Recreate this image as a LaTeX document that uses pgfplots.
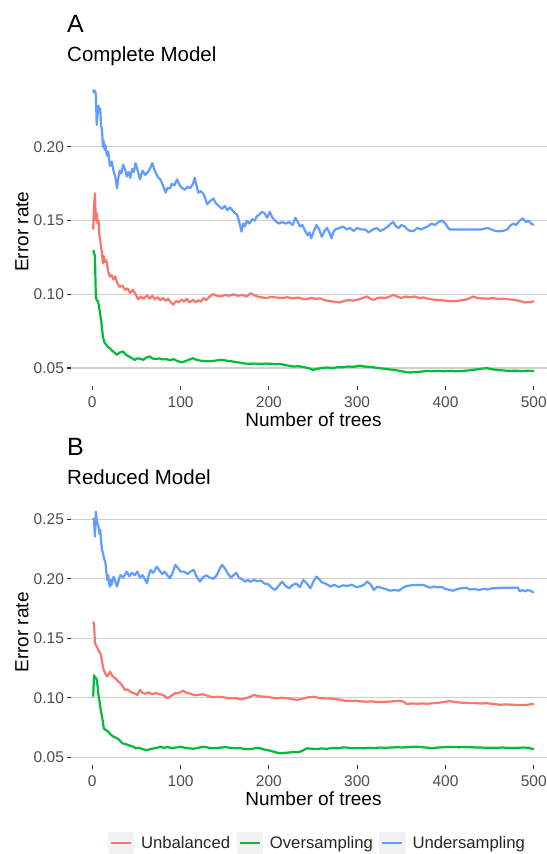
\documentclass[border=0pt]{standalone}
\usepackage{pgfplots}
\pgfplotsset{compat=1.18}
\usepackage{fontspec}
\setmainfont{Liberation Sans}

\definecolor{ggred}{HTML}{F8766D}
\definecolor{gggreen}{HTML}{00BA38}
\definecolor{ggblue}{HTML}{619CFF}
\definecolor{gridgray}{HTML}{CFCFCF}
\definecolor{tickgray}{HTML}{333333}
\definecolor{labelgray}{HTML}{4D4D4D}
\definecolor{legbg}{HTML}{F2F2F2}

\pgfplotsset{
  ggpanel/.style={
    scale only axis,
    width=475.9bp,
    xmin=-24, xmax=515,
    xtick={0,100,...,500},
    axis line style={draw=none},
    tick align=outside,
    xtick pos=left, ytick pos=left,
    major tick length=3.7bp,
    tick style={color=tickgray, line width=1.1bp},
    ymajorgrids,
    y grid style={gridgray, line width=1.1bp},
    tick label style={font=\fontsize{15.5bp}{18bp}\selectfont, text=labelgray},
    xticklabel style={yshift=-3bp},
    /pgf/number format/assume math mode=true,
    yticklabel style={/pgf/number format/.cd, fixed, fixed zerofill, precision=2},
    scaled y ticks=false,
    label style={font=\fontsize{19bp}{22bp}\selectfont},
    ylabel={Error rate},
    xlabel={Number of trees},
    ylabel style={anchor=center, at={(rel axis cs:-0.1032,0.5)}},
    every axis plot/.append style={line width=2.2bp, line join=round},
  },
}

\begin{document}
\begin{tikzpicture}
\useasboundingbox (0,0) rectangle (547bp,854bp);

% ---- A: complete model ----
\begin{axis}[ggpanel,
  at={(71.1bp,467.6bp)}, anchor=south west,
  height=309.6bp,
  ymin=0.0375, ymax=0.2476,
  ytick={0.05,0.10,0.15,0.20},
  xlabel style={anchor=center, at={(rel axis cs:0.5093,-0.1085)}},
]
\addplot[ggred, forget plot] table {
1 0.144
2 0.160
3 0.1686
4 0.150
5 0.155
6 0.148
7 0.150
8 0.140
9 0.137
10 0.132
11 0.128
12 0.121
13 0.126
14 0.122
16 0.123
18 0.1154
20 0.112
22 0.113
24 0.110
26 0.112
28 0.108
31 0.105
34 0.106
37 0.103
40 0.104
43 0.101
46 0.103
49 0.100
52 0.0965
55 0.0985
58 0.097
62 0.0993
65 0.097
68 0.099
71 0.0965
74 0.098
77 0.096
80 0.0975
83 0.0955
86 0.097
89 0.0945
92 0.0930
95 0.0955
98 0.0945
101 0.0965
104 0.095
107 0.097
110 0.0945
114 0.0962
117 0.0945
120 0.096
123 0.095
126 0.0975
129 0.096
133 0.0985
137 0.1002
141 0.0990
145 0.0985
150 0.0995
155 0.0990
160 0.1000
165 0.0990
170 0.0995
175 0.0985
179 0.1007
183 0.0995
187 0.0985
191 0.0980
197 0.0975
203 0.0982
209 0.0978
215 0.0975
221 0.0980
227 0.0972
233 0.0978
239 0.0968
243 0.0967
248 0.0975
253 0.0970
258 0.0972
263 0.0960
268 0.0955
274 0.0950
280 0.0944
285 0.0955
290 0.0960
296 0.0958
302 0.0965
306 0.0975
311 0.0985
315 0.0970
319 0.0962
323 0.0975
327 0.0978
332 0.0975
337 0.0985
341 0.0996
345 0.0985
350 0.0975
355 0.0985
360 0.0980
365 0.0985
370 0.0975
375 0.0978
380 0.0970
385 0.0965
390 0.0962
396 0.0960
402 0.0955
408 0.0952
412 0.0953
418 0.0960
424 0.0965
428 0.0975
431 0.0985
436 0.0975
442 0.0972
448 0.0970
454 0.0975
460 0.0968
466 0.0970
472 0.0965
478 0.0962
484 0.0955
490 0.0944
494 0.0948
497 0.0945
500 0.0955
};
\addplot[gggreen, forget plot] table {
1 0.130
2 0.1285
3 0.1256
4 0.0985
5 0.096
6 0.0955
7 0.094
8 0.090
9 0.086
10 0.0826
11 0.077
12 0.0713
13 0.069
14 0.067
16 0.0657
18 0.064
20 0.0635
22 0.062
25 0.0605
28 0.059
31 0.0605
35 0.0612
38 0.059
41 0.058
45 0.0566
48 0.0555
51 0.0565
55 0.0562
58 0.0555
61 0.0570
65 0.0578
68 0.0565
72 0.0560
76 0.0565
80 0.0558
84 0.0560
88 0.0552
92 0.0560
96 0.0548
101 0.0538
105 0.0545
109 0.0555
114 0.0566
118 0.0555
122 0.0550
127 0.0548
132 0.0545
137 0.0548
142 0.0552
148 0.0555
153 0.0548
158 0.0545
163 0.0540
168 0.0535
173 0.0530
179 0.0528
185 0.0530
191 0.0528
197 0.0530
203 0.0528
208 0.0525
213 0.0528
218 0.0520
223 0.0515
228 0.0510
234 0.0512
240 0.0505
245 0.0499
250 0.0487
255 0.0495
260 0.0500
266 0.0503
272 0.0500
278 0.0505
284 0.0505
290 0.0510
296 0.0508
303 0.0516
308 0.0510
313 0.0508
318 0.0505
323 0.0500
330 0.0495
337 0.0490
344 0.0485
350 0.0478
356 0.0472
360 0.0469
366 0.0472
372 0.0475
378 0.0480
384 0.0478
390 0.0480
398 0.0478
405 0.0480
412 0.0478
420 0.0480
428 0.0485
435 0.0490
441 0.0495
447 0.0499
452 0.0492
457 0.0488
462 0.0485
468 0.0482
474 0.0480
480 0.0482
486 0.0478
492 0.0482
496 0.0480
500 0.0480
};
\addplot[ggblue, forget plot] table {
1 0.239
2 0.237
3 0.238
4 0.236
5 0.215
6 0.222
7 0.228
8 0.224
9 0.226
10 0.214
11 0.212
12 0.200
13 0.204
14 0.198
15 0.201
16 0.196
17 0.194
18 0.197
20 0.187
22 0.190
24 0.184
26 0.180
27 0.176
28 0.172
29 0.177
31 0.184
33 0.182
35 0.188
37 0.185
39 0.180
41 0.183
43 0.179
45 0.185
47 0.183
49 0.189
51 0.185
54 0.178
57 0.184
60 0.181
63 0.183
66 0.186
68 0.189
70 0.185
73 0.181
75 0.179
77 0.178
80 0.174
83 0.169
85 0.172
88 0.172
90 0.175
93 0.174
96 0.178
99 0.174
102 0.172
105 0.171
108 0.173
111 0.172
114 0.175
116 0.179
118 0.174
120 0.169
123 0.170
126 0.168
128 0.165
130 0.161
133 0.163
137 0.165
140 0.162
143 0.160
147 0.158
150 0.160
153 0.157
156 0.159
160 0.156
164 0.154
166 0.150
169 0.1425
171 0.148
173 0.146
175 0.150
178 0.148
181 0.151
184 0.150
186 0.1527
189 0.154
192 0.156
195 0.155
198 0.152
201 0.156
204 0.152
207 0.150
211 0.148
215 0.149
219 0.148
223 0.149
227 0.147
230 0.152
233 0.149
235 0.146
238 0.147
241 0.143
244 0.140
246 0.142
248 0.138
251 0.143
254 0.147
257 0.144
260 0.139
263 0.143
266 0.145
269 0.141
271 0.138
273 0.142
275 0.144
280 0.145
284 0.146
288 0.144
292 0.145
296 0.143
300 0.145
305 0.144
309 0.144
313 0.142
318 0.144
322 0.145
326 0.143
330 0.144
335 0.146
338 0.148
341 0.149
344 0.146
347 0.145
350 0.147
354 0.146
357 0.144
360 0.143
364 0.143
368 0.145
372 0.144
376 0.145
380 0.146
384 0.148
388 0.147
392 0.149
396 0.150
400 0.148
403 0.145
405 0.144
410 0.144
420 0.144
430 0.144
440 0.144
448 0.145
452 0.144
456 0.143
460 0.1427
465 0.143
470 0.144
474 0.147
477 0.148
480 0.147
484 0.150
488 0.1515
491 0.149
494 0.150
497 0.148
500 0.147
};
\end{axis}

% ---- B: reduced model ----
\begin{axis}[ggpanel,
  at={(71.1bp,88.6bp)}, anchor=south west,
  height=265.9bp,
  ymin=0.0432, ymax=0.2666,
  ytick={0.05,0.10,0.15,0.20,0.25},
  xlabel style={anchor=center, at={(rel axis cs:0.5093,-0.1264)}},
  legend columns=3,
  legend style={at={(0.5175,-0.2918)}, anchor=center, draw=none, fill=none,
    font=\fontsize{16.7bp}{20bp}\selectfont, text=black!85,
    /tikz/every odd column/.append style={column sep=5bp},
    /tikz/every even column/.append style={column sep=4.5bp}},
  legend image code/.code={
    \fill[legbg] (0bp,-10bp) rectangle (24bp,10bp);
    \draw[#1] (2bp,0bp) -- (22bp,0bp);},
]
\addplot[ggred] table {
1 0.164
2 0.162
3 0.1458
5 0.143
7 0.140
9 0.1374
10 0.136
11 0.130
13 0.1234
15 0.120
17 0.1178
20 0.122
23 0.118
26 0.1164
29 0.114
32 0.1122
35 0.109
37 0.1066
40 0.107
43 0.105
47 0.104
51 0.1024
54 0.1066
57 0.104
60 0.1035
64 0.1045
68 0.103
72 0.1040
76 0.103
80 0.1025
85 0.0996
89 0.1015
94 0.1038
98 0.104
103 0.106
107 0.104
111 0.1035
116 0.102
120 0.1025
125 0.1030
130 0.1018
137 0.1004
142 0.1010
147 0.1005
152 0.1000
157 0.0995
162 0.0998
168 0.0987
173 0.0995
178 0.1005
183 0.1024
188 0.1015
193 0.1010
199 0.1008
204 0.1000
209 0.0996
214 0.1000
220 0.0998
226 0.0990
232 0.0981
236 0.0990
240 0.0995
245 0.1005
251 0.1009
256 0.1000
262 0.0995
268 0.0995
274 0.0990
280 0.0985
286 0.0975
292 0.0973
298 0.0975
304 0.0970
311 0.0967
317 0.0970
323 0.0965
330 0.0965
336 0.0968
342 0.0972
349 0.0975
353 0.0965
356 0.0948
362 0.0952
368 0.0950
374 0.0952
380 0.0950
386 0.0955
392 0.0958
398 0.0965
405 0.0973
410 0.0965
416 0.0960
422 0.0958
428 0.0955
434 0.0955
440 0.0952
446 0.0955
452 0.0950
458 0.0945
462 0.0941
468 0.0945
474 0.0942
480 0.0940
486 0.0940
492 0.0940
496 0.0945
500 0.0948
};
\addlegendentry{Unbalanced}
\addplot[gggreen] table {
1 0.101
2 0.119
3 0.1165
4 0.117
5 0.115
6 0.110
7 0.1024
8 0.098
9 0.0925
10 0.088
11 0.0842
12 0.080
13 0.0744
15 0.073
18 0.0716
21 0.069
24 0.0673
27 0.0665
30 0.065
34 0.0618
38 0.0610
42 0.0600
46 0.0590
49 0.0576
53 0.0580
57 0.0568
62 0.0560
66 0.0570
70 0.0575
74 0.0580
77 0.0589
81 0.0580
85 0.0585
90 0.0578
95 0.0582
100 0.0588
105 0.0580
110 0.0575
115 0.0572
120 0.0580
126 0.0589
131 0.0582
136 0.0575
141 0.0578
146 0.0582
151 0.0586
156 0.0580
161 0.0575
166 0.0578
171 0.0572
176 0.0568
181 0.0572
186 0.0578
190 0.0576
195 0.0565
200 0.0558
205 0.0548
209 0.0539
213 0.0534
218 0.0538
223 0.0540
228 0.0545
233 0.0542
238 0.0555
243 0.0576
248 0.0572
254 0.0570
260 0.0574
266 0.0572
272 0.0578
278 0.0575
285 0.0584
290 0.0580
296 0.0575
302 0.0578
308 0.0576
314 0.0580
320 0.0578
326 0.0582
332 0.0580
338 0.0582
345 0.0585
352 0.0582
358 0.0586
364 0.0588
368 0.0589
374 0.0585
380 0.0580
386 0.0578
392 0.0582
398 0.0585
404 0.0588
410 0.0586
416 0.0585
422 0.0587
428 0.0585
434 0.0583
440 0.0582
446 0.0580
452 0.0580
458 0.0580
464 0.0582
470 0.0580
476 0.0578
482 0.0580
488 0.0582
494 0.0580
500 0.0567
};
\addlegendentry{Oversampling}
\addplot[ggblue] table {
1 0.251
2 0.249
3 0.2354
4 0.2564
5 0.250
6 0.246
7 0.2438
8 0.238
9 0.241
10 0.232
11 0.2242
12 0.222
13 0.218
15 0.213
16 0.205
17 0.199
18 0.203
19 0.196
20 0.1934
21 0.199
22 0.195
24 0.2018
26 0.198
28 0.1934
30 0.199
32 0.2032
35 0.201
39 0.206
42 0.202
45 0.205
48 0.203
51 0.206
54 0.201
57 0.203
60 0.199
62 0.1962
64 0.203
66 0.2074
69 0.205
73 0.2102
76 0.207
79 0.204
82 0.206
85 0.203
88 0.2004
91 0.205
94 0.2116
97 0.209
100 0.206
104 0.206
108 0.204
111 0.206
115 0.2074
118 0.202
122 0.1976
125 0.201
129 0.203
133 0.201
137 0.200
141 0.203
144 0.208
147 0.2116
150 0.209
153 0.205
157 0.201
160 0.203
163 0.205
166 0.201
170 0.1995
173 0.1976
176 0.199
179 0.1976
183 0.199
187 0.198
191 0.1985
195 0.196
199 0.1955
202 0.1934
204 0.192
207 0.1906
211 0.194
215 0.1976
219 0.194
223 0.192
227 0.195
231 0.196
235 0.193
239 0.199
243 0.196
247 0.192
251 0.1985
254 0.2018
257 0.1995
260 0.197
264 0.196
270 0.1934
274 0.195
279 0.193
284 0.1945
289 0.194
294 0.195
299 0.193
303 0.1935
308 0.195
311 0.1976
315 0.1955
319 0.1906
323 0.1935
327 0.1925
332 0.1915
337 0.190
342 0.1905
347 0.190
352 0.1925
356 0.1939
361 0.1945
366 0.1948
371 0.1948
375 0.1948
379 0.1935
383 0.1925
387 0.1935
391 0.1928
396 0.193
400 0.1915
405 0.1905
409 0.190
414 0.1915
418 0.192
423 0.1925
428 0.191
433 0.1915
438 0.1905
443 0.1915
448 0.191
453 0.192
458 0.192
463 0.1925
470 0.1925
477 0.1925
482 0.1925
484 0.1895
487 0.1905
490 0.1895
493 0.1905
496 0.190
500 0.1883
};
\addlegendentry{Undersampling}
\end{axis}

% panel tags and titles
\node[anchor=base west, inner sep=0pt, font=\fontsize{25bp}{30bp}\selectfont] at (67bp,821bp) {A};
\node[anchor=base west, inner sep=0pt, font=\fontsize{20.5bp}{24bp}\selectfont] at (67bp,792bp) {Complete Model};
\node[anchor=base west, inner sep=0pt, font=\fontsize{25bp}{30bp}\selectfont] at (67bp,398.3bp) {B};
\node[anchor=base west, inner sep=0pt, font=\fontsize{20.5bp}{24bp}\selectfont] at (67bp,369.3bp) {Reduced Model};
\end{tikzpicture}
\end{document}
